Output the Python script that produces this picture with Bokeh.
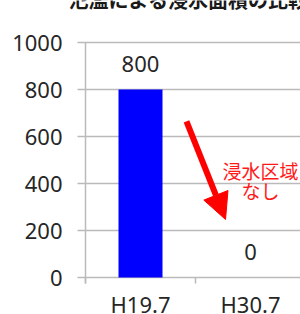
from bokeh.plotting import figure
from bokeh.models import (Range1d, FixedTicker, ColumnDataSource, LabelSet, Label,
                          Arrow, NormalHead)
from bokeh.core.properties import value
from bokeh.embed import file_html
from bokeh.resources import INLINE

title_text = "氾濫による浸水面積の比較"
categories = ["H19.7", "H30.7"]
areas = [800, 0]
y_ticks = [0, 200, 400, 600, 800, 1000]
note_lines = ["浸水区域", "なし"]

# layout constants (pixels)
W, H = 300, 314
AXIS_X = 85          # x of the value axis
Y0_PX, PX_PER_UNIT = 277, 0.235   # pixel row of value 0, pixels per unit
CAT_PX = 110         # width of one category

xc = [i + 0.5 for i in range(len(categories))]
bounds_x = list(range(len(categories) + 1))
tick_len = 6 / PX_PER_UNIT
x_start = -AXIS_X / CAT_PX

src = ColumnDataSource(dict(x=xc, top=areas, lab=[str(v) for v in areas],
                            cat=categories, base=[0] * len(categories)))
tsrc = ColumnDataSource(dict(x=bounds_x, y0=[0] * len(bounds_x),
                             y1=[-tick_len] * len(bounds_x)))

GRID = "#bababa"
NUM_FONT = "Noto Sans"
JP_FONT = "Noto Sans CJK JP"
TXT = "#262626"

p = figure(width=W, height=H, output_backend="svg", toolbar_location=None,
           x_axis_location=None,
           x_range=Range1d(x_start, x_start + W / CAT_PX),
           y_range=Range1d(-(H - Y0_PX) / PX_PER_UNIT, Y0_PX / PX_PER_UNIT),
           min_border_left=0, min_border_right=0, min_border_top=0,
           min_border_bottom=0)
p.outline_line_color = None
p.background_fill_color = "white"
p.border_fill_color = "white"

p.vbar(x="x", top="top", width=0.4, source=src, fill_color="#0000ff", line_color=None)
# category boundary ticks
p.segment(x0="x", x1="x", y0="y0", y1="y1", source=tsrc, line_color=GRID, line_width=1.5)

p.add_layout(LabelSet(x="x", y="top", text="lab", source=src, text_align="center",
                      text_baseline="alphabetic", y_offset=18, text_font_size="22px",
                      text_font=value(NUM_FONT), text_color=TXT))
p.add_layout(LabelSet(x="x", y="base", text="cat", source=src, text_align="center",
                      text_baseline="alphabetic", y_offset=-35, text_font_size="22px",
                      text_font=value(NUM_FONT), text_color=TXT))

# value axis, fixed at x = 0; its long inner ticks act as gridlines
p.xgrid.visible = False
p.ygrid.visible = False
yax = p.yaxis[0]
yax.fixed_location = 0
yax.level = "underlay"
yax.ticker = FixedTicker(ticks=y_ticks)
yax.bounds = (-tick_len, max(y_ticks))
yax.axis_line_color = GRID
yax.axis_line_width = 1.5
yax.major_tick_line_color = GRID
yax.major_tick_line_width = 1.5
yax.major_tick_out = 8
yax.major_tick_in = W - AXIS_X
yax.minor_tick_line_color = None
yax.major_label_standoff = 15
yax.major_label_text_font_size = "22px"
yax.major_label_text_font = NUM_FONT
yax.major_label_text_color = TXT

# annotation arrow and note
p.add_layout(Arrow(x_start=0.918, y_start=664, x_end=1.273, y_end=247,
                   line_color="#ff0000", line_width=6,
                   end=NormalHead(size=26, fill_color="#ff0000", line_color="#ff0000")))
p.add_layout(Label(x=1.59, y=(Y0_PX - 170) / PX_PER_UNIT, text=note_lines[0],
                   text_align="center", text_baseline="middle", text_font=JP_FONT,
                   text_font_size="19px", text_color="#ff1a1a"))
p.add_layout(Label(x=1.59, y=(Y0_PX - 190) / PX_PER_UNIT, text=note_lines[1],
                   text_align="center", text_baseline="middle", text_font=JP_FONT,
                   text_font_size="19px", text_color="#ff1a1a"))

# title, cut off at the top like in the reference
p.add_layout(Label(x=(68 - AXIS_X) / CAT_PX, y=(Y0_PX + 1) / PX_PER_UNIT, text=title_text,
                   text_align="left", text_baseline="alphabetic", text_font=JP_FONT,
                   text_font_size="20px", text_font_style="bold", text_color="#1a1a1a"))

open("out.html", "w").write(file_html(p, INLINE))
